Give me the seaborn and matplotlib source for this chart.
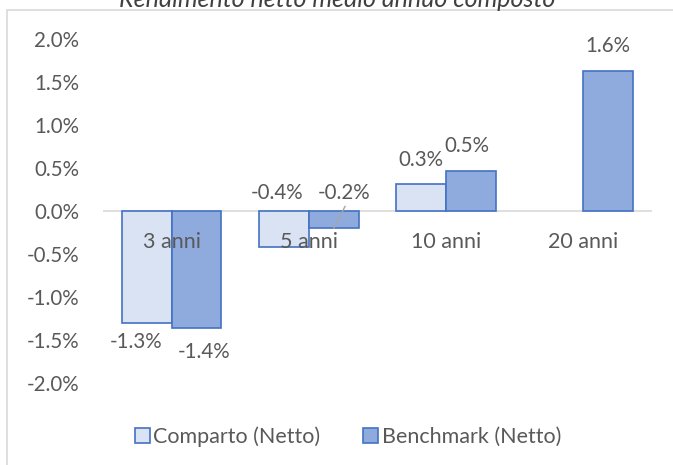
import numpy as np
import pandas as pd
import seaborn as sns
import matplotlib.pyplot as plt
from matplotlib.patches import Rectangle

# data (% values)
categories = ["3 anni", "5 anni", "10 anni", "20 anni"]
series = ["Comparto (Netto)", "Benchmark (Netto)"]
comparto = [-1.30, -0.42, 0.31, np.nan]
benchmark = [-1.36, -0.20, 0.47, 1.63]
yticks = [-2.0, -1.5, -1.0, -0.5, 0.0, 0.5, 1.0, 1.5, 2.0]
title = "Rendimento netto medio annuo composto"

df = pd.DataFrame({
    "cat": categories * 2,
    "serie": [series[0]] * 4 + [series[1]] * 4,
    "val": comparto + benchmark,
}).dropna()

fill = {series[0]: "#DAE3F3", series[1]: "#8FAADC"}
edge = "#4472C4"
txt = "#595959"
fs_num = 14.8
fs_word = 15.5

sns.set_style("white")
plt.rcParams["font.family"] = ["Lato", "DejaVu Sans"]

fig = plt.figure(figsize=(6.73, 4.65), dpi=100)
ax = fig.add_axes([103 / 673, 1 - 383 / 465, 549 / 673, 344 / 465])

sns.barplot(data=df, x="cat", y="val", hue="serie", order=categories,
            hue_order=series, palette=fill, width=0.725, edgecolor=edge,
            linewidth=1.2, saturation=1, ax=ax, legend=True)

ax.set_ylim(-2, 2)
ax.set_xlim(-0.5, 3.5)
ax.set_yticks(yticks)
ax.set_yticklabels([f"{v:.1f}%" for v in yticks], color=txt, fontsize=fs_num)
ax.tick_params(axis="y", length=0, pad=17)
ax.set_xticks([])
ax.set_xlabel("")
ax.set_ylabel("")
sns.despine(ax=ax, left=True, bottom=True)
ax.axhline(0, color="#D9D9D9", lw=1.2, zorder=0.5)

# category names sit just under the zero line
for i, c in enumerate(categories):
    ax.text(i, -0.36, c, ha="center", va="center", color=txt, fontsize=fs_word)

# data labels, nudged like the original (pixel offsets)
nudge = {
    (0, 0): (-11, -19), (0, 1): (8, -24),
    (1, 0): (-7, 54), (1, 1): (10, 35),
    (2, 0): (0, 24), (2, 1): (-4, 25),
    (3, 1): (0, 25),
}
for h, cont in enumerate(ax.containers):
    for bar in cont:
        v = bar.get_y() + bar.get_height() if bar.get_y() == 0 else bar.get_y()
        xc = bar.get_x() + bar.get_width() / 2
        i = int(round(xc))
        dx, dy = nudge.get((i, h), (0, 20))
        ax.annotate(f"{v:.1f}%", (xc, v), xytext=(dx * 0.72, dy * 0.72),
                    textcoords="offset points", ha="center", va="center",
                    color=txt, fontsize=fs_num)
        if (i, h) == (1, 1):
            ax.annotate("", (xc, v), xytext=(dx * 0.72 + 1, dy * 0.72 - 13 * 0.72),
                        textcoords="offset points",
                        arrowprops=dict(arrowstyle="-", color="#A6A6A6", lw=1,
                                        shrinkA=0, shrinkB=0))

leg = ax.legend(loc="center", bbox_to_anchor=(348 / 673, 1 - 437 / 465),
                bbox_transform=fig.transFigure, ncol=2, frameon=False,
                handlelength=0.7, handleheight=0.7, handletextpad=0.15,
                columnspacing=2.0, fontsize=fs_word)
for t in leg.get_texts():
    t.set_color(txt)

fig.text(337 / 673, 1 - 7 / 465, title, ha="center", va="baseline",
         style="italic", fontsize=18, color="#404040")

fig.patches.append(Rectangle((7 / 673, -0.02), 1.0, 1 - 10 / 465 + 0.02,
                             transform=fig.transFigure, fill=False,
                             edgecolor="#D9D9D9", lw=1.2))

fig.savefig("out.png", dpi=100)
